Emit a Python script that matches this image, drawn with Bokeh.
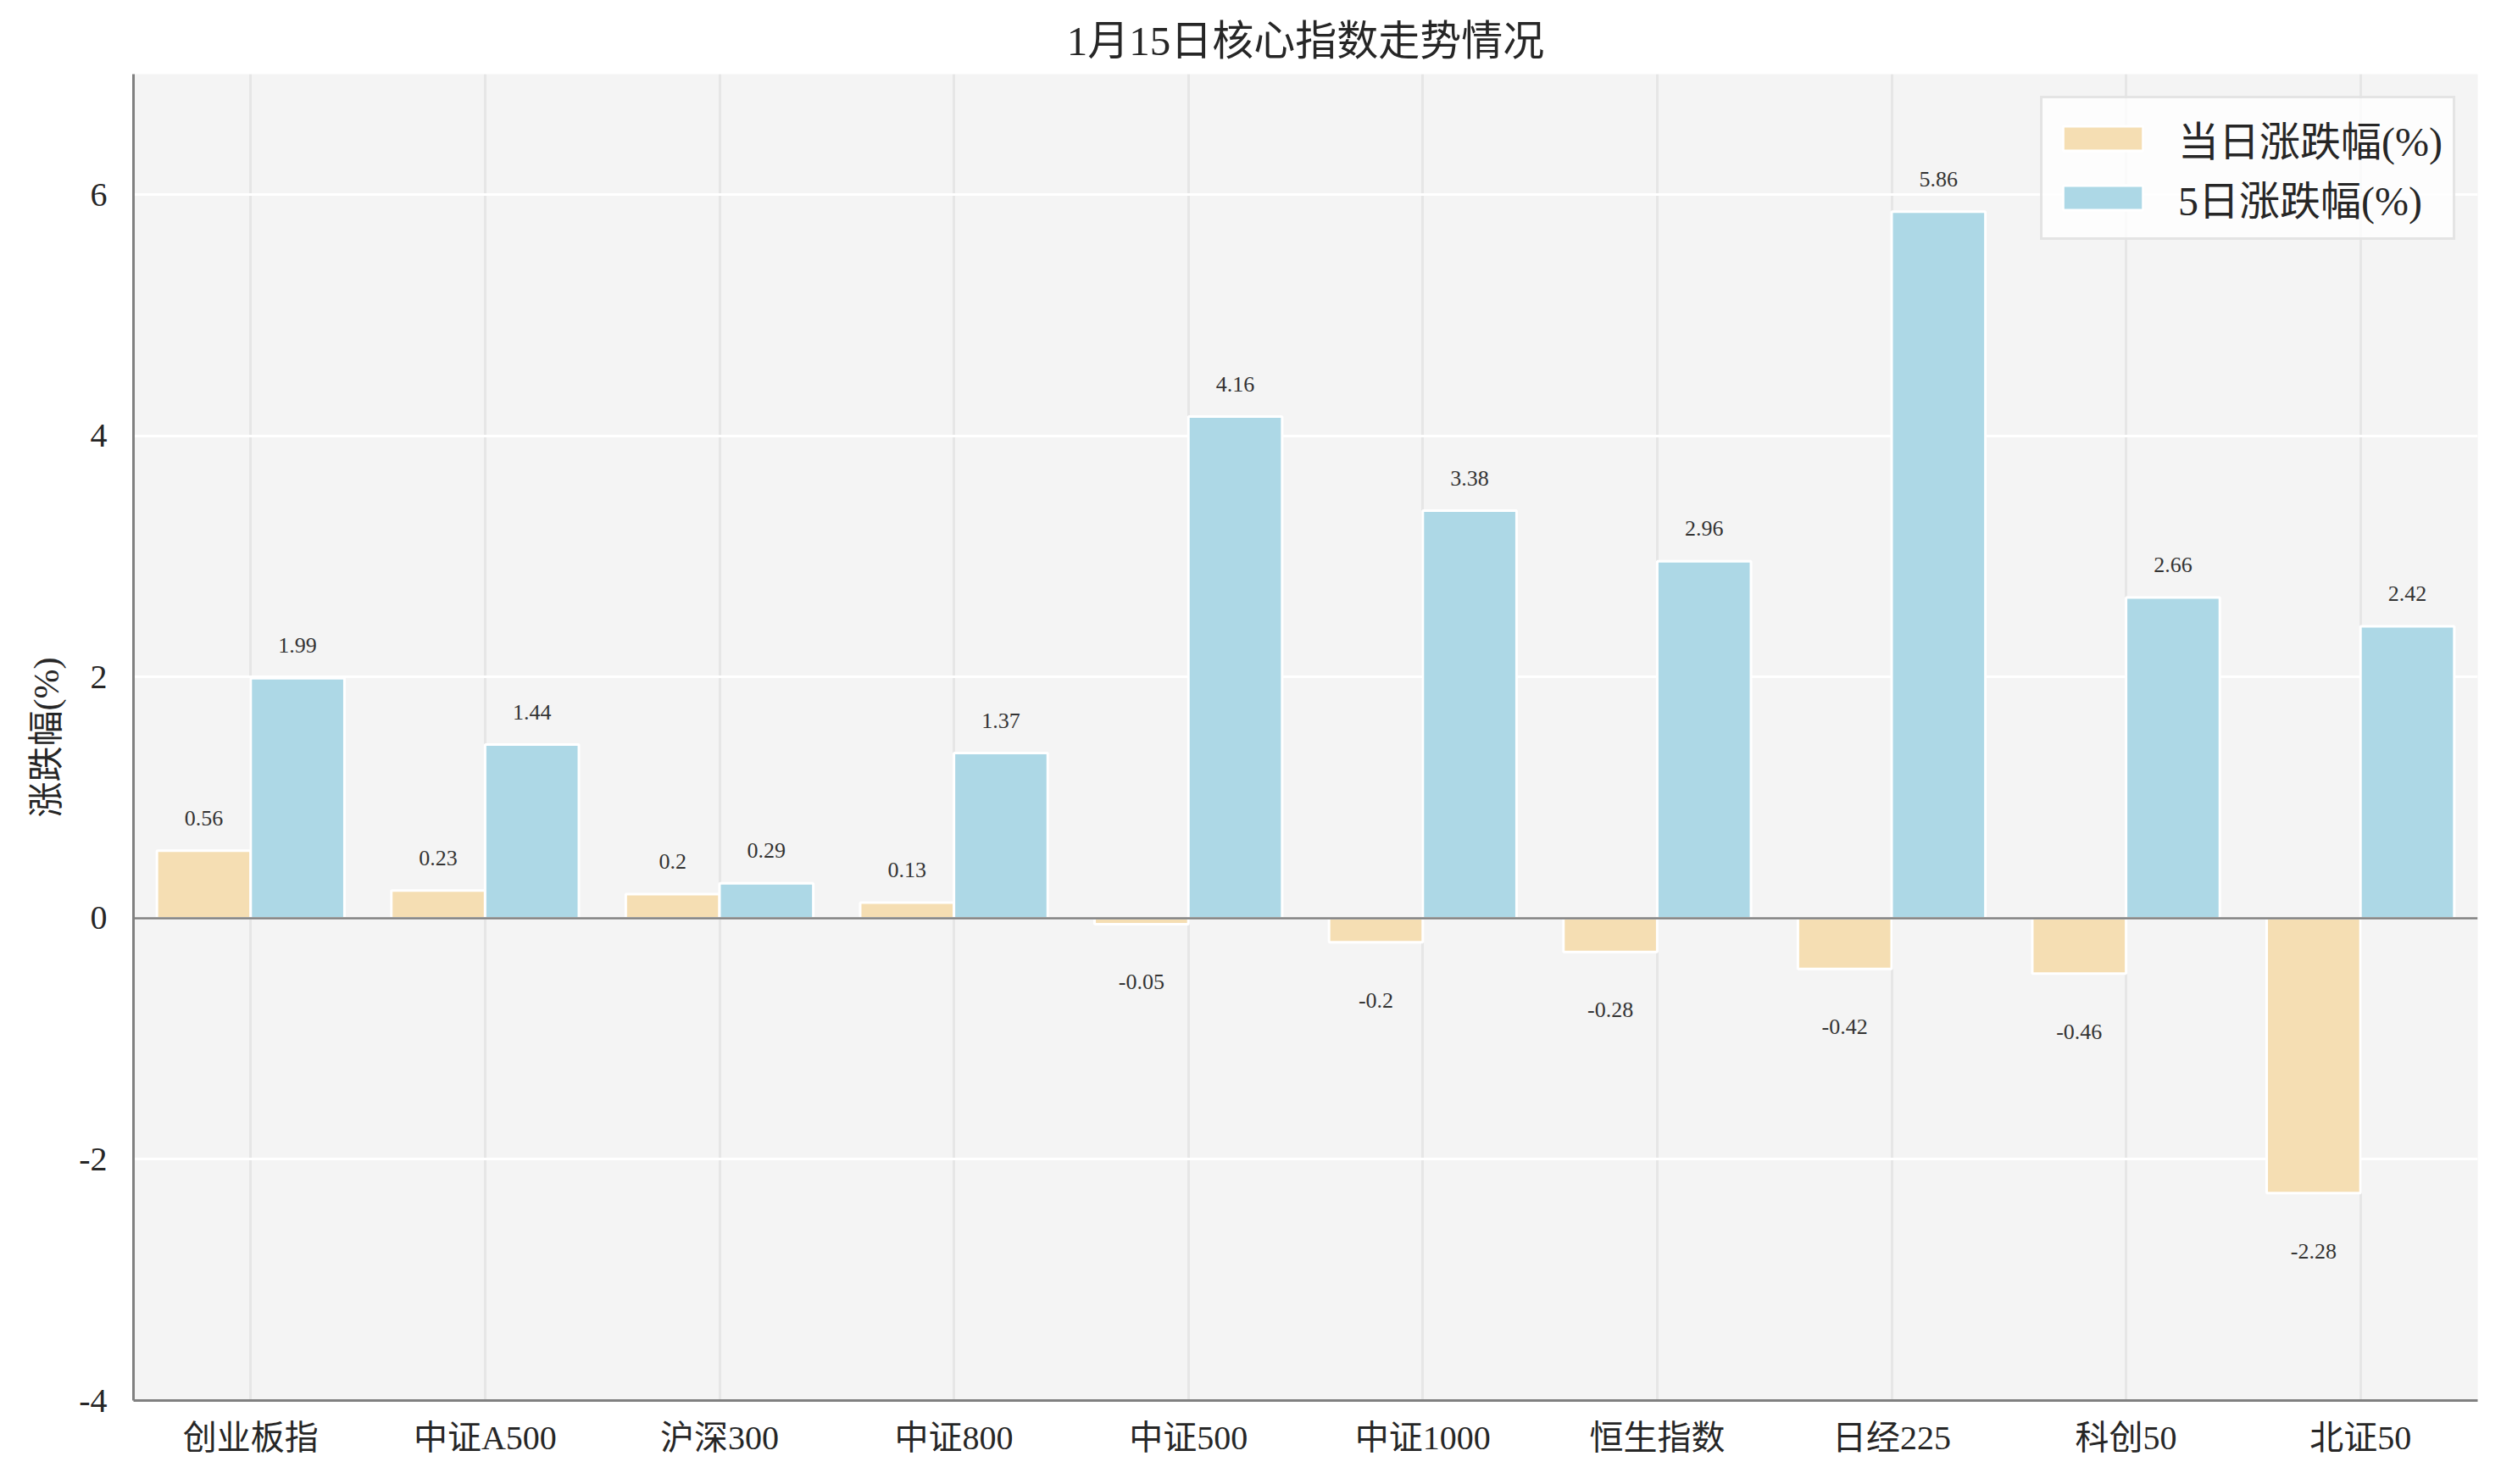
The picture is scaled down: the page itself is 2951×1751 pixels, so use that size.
from bokeh.plotting import figure
from bokeh.models import ColumnDataSource, FactorRange, FixedTicker, Span, Legend, LegendItem
from bokeh.transform import dodge
from bokeh.core.properties import value
from bokeh.embed import file_html
from bokeh.resources import INLINE

categories = ["创业板指", "中证A500", "沪深300", "中证800", "中证500",
              "中证1000", "恒生指数", "日经225", "科创50", "北证50"]
day_change = [0.56, 0.23, 0.2, 0.13, -0.05, -0.2, -0.28, -0.42, -0.46, -2.28]
five_day_change = [1.99, 1.44, 0.29, 1.37, 4.16, 3.38, 2.96, 5.86, 2.66, 2.42]
series_names = ["当日涨跌幅(%)", "5日涨跌幅(%)"]
y_ticks = [-4, -2, 0, 2, 4, 6]

FONT = "Liberation Serif, Noto Sans CJK SC"
TXT = "#262626"

def fmt(v):
    s = f"{v:.2f}".rstrip("0").rstrip(".")
    return s

def label_y(v):
    return v + 0.27 if v >= 0 else v - 0.48

src = ColumnDataSource(dict(
    cat=categories,
    d1=day_change,
    d5=five_day_change,
    d1_lab=[fmt(v) for v in day_change],
    d5_lab=[fmt(v) for v in five_day_change],
    d1_y=[label_y(v) for v in day_change],
    d5_y=[label_y(v) for v in five_day_change],
))

p = figure(width=2935, height=1735, x_range=FactorRange(*categories, range_padding=0),
           y_range=(-4, 7), output_backend="svg", toolbar_location=None,
           title="1月15日核心指数走势情况",
           min_border_left=157, min_border_right=12, min_border_top=87, min_border_bottom=83)

p.background_fill_color = "#f4f4f4"
p.border_fill_color = "white"
p.outline_line_color = None

p.title.text_font = FONT
p.title.text_font_size = "49px"
p.title.text_font_style = "normal"
p.title.text_color = TXT
p.title.align = "center"
p.title.standoff = 24

r1 = p.vbar(x=dodge("cat", -0.2, range=p.x_range), top="d1", width=0.4, source=src,
            fill_color="#F5DEB3", line_color="white", line_width=3)
r2 = p.vbar(x=dodge("cat", 0.2, range=p.x_range), top="d5", width=0.4, source=src,
            fill_color="#ADD8E6", line_color="white", line_width=3)

for xoff, ycol, lcol in [(-0.2, "d1_y", "d1_lab"), (0.2, "d5_y", "d5_lab")]:
    p.text(x=dodge("cat", xoff, range=p.x_range), y=ycol, text=lcol, source=src,
           text_align="center", text_baseline="middle", text_font=value(FONT),
           text_font_size="26px", text_color="#333333")

p.add_layout(Span(location=0, dimension="width", line_color="#808080", line_width=2.5))

p.yaxis.ticker = FixedTicker(ticks=y_ticks)
p.yaxis.major_label_overrides = {t: str(t) for t in y_ticks}
p.yaxis.axis_label = "涨跌幅(%)"
p.yaxis.axis_label_text_font = FONT
p.yaxis.axis_label_text_font_size = "42px"
p.yaxis.axis_label_text_font_style = "normal"
p.yaxis.axis_label_text_color = TXT
p.yaxis.axis_label_standoff = 12

for ax in (p.xaxis[0], p.yaxis[0]):
    ax.axis_line_color = "#808080"
    ax.axis_line_width = 3
    ax.major_tick_line_color = None
    ax.minor_tick_line_color = None
    ax.major_label_text_font = FONT
    ax.major_label_text_font_size = "40px"
    ax.major_label_text_color = TXT
p.yaxis.major_label_standoff = 25
p.xaxis.major_label_standoff = 15

p.ygrid.grid_line_color = "white"
p.ygrid.grid_line_width = 3
p.xgrid.grid_line_color = "#e6e6e6"
p.xgrid.grid_line_width = 3

legend = Legend(items=[LegendItem(label=series_names[0], renderers=[r1]),
                       LegendItem(label=series_names[1], renderers=[r2])],
                location="top_right")
legend.label_text_font = FONT
legend.label_text_font_size = "48px"
legend.label_text_color = TXT
legend.glyph_width = 118
legend.glyph_height = 36
legend.label_standoff = 30
legend.spacing = 0
legend.padding = 12
legend.margin = 26
legend.background_fill_color = "white"
legend.background_fill_alpha = 0.8
legend.border_line_color = "#cccccc"
legend.border_line_width = 3
p.add_layout(legend)

open("out.html", "w").write(file_html(p, INLINE))
